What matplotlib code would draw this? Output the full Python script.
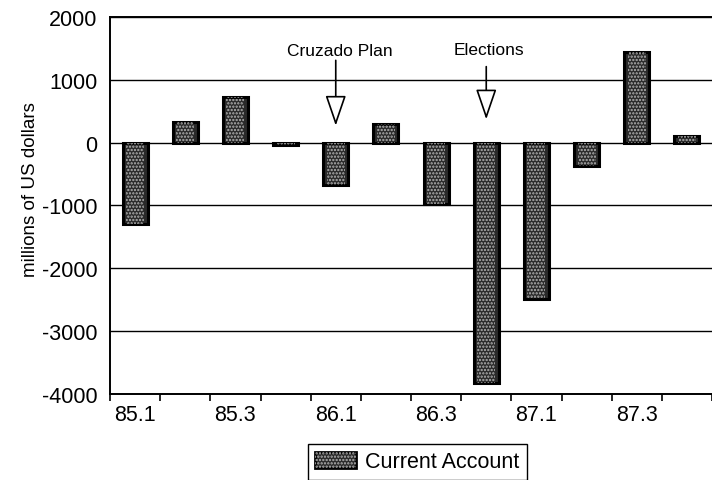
import matplotlib
matplotlib.use("Agg")
import matplotlib.pyplot as plt
from matplotlib.patches import Patch
from matplotlib.legend_handler import HandlerTuple

quarters = ["85.1", "85.2", "85.3", "85.4", "86.1", "86.2",
            "86.3", "86.4", "87.1", "87.2", "87.3", "87.4"]
current_account = [-1300, 330, 720, -30, -670, 290,
                   -970, -3830, -2490, -380, 1450, 110]
y_ticks = [-4000, -3000, -2000, -1000, 0, 1000, 2000]
events = ["Cruzado Plan", "Elections"]
event_idx = [4, 7]

plt.rcParams['font.family'] = ['Liberation Sans', 'DejaVu Sans']
plt.rcParams['hatch.linewidth'] = 1.1

fig = plt.figure(figsize=(7.12, 4.81), dpi=100)
ax = fig.add_axes([0.1545, 0.179, 0.8455, 0.7836])

x = list(range(len(quarters)))
ax.bar(x, current_account, width=0.5, color='#2a2a2a', edgecolor='black',
       linewidth=2.2, zorder=3)
ax.bar(x, current_account, width=0.36, color='none', edgecolor='#b4b4b4',
       hatch='.....', linewidth=0, zorder=4)

ax.set_xlim(-0.5, 11.27)
ax.set_ylim(-4000, 2000)
ax.set_yticks(y_ticks)
ax.set_yticklabels([str(v) for v in y_ticks], fontsize=15.5)
ax.tick_params(axis='y', length=0, pad=9)
for v in y_ticks:
    ax.axhline(v, color='black', linewidth=1.0, zorder=1)

ax.set_xticks(x)
ax.set_xticklabels([q if i % 2 == 0 else "" for i, q in enumerate(quarters)], fontsize=15.5)
ax.tick_params(axis='x', which='major', length=0, pad=7)
ax.set_xticks([i - 0.5 for i in range(len(quarters) + 1)], minor=True)
ax.tick_params(axis='x', which='minor', length=5, width=1.2, direction='out')

for s in ['left', 'bottom', 'top']:
    ax.spines[s].set_linewidth(1.4)
ax.spines['right'].set_visible(False)

ax.set_ylabel("millions of US dollars", fontsize=13.5, labelpad=7)
ax.yaxis.set_label_coords(-0.118, 0.545)

# event annotations
label_y = [1470, 1480]
arrow_start = [1310, 1210]
arrow_tip = [270, 370]
label_dx = [0.08, 0.05]
for name, i, ty, ys, yt, dx in zip(events, event_idx, label_y, arrow_start, arrow_tip, label_dx):
    ax.text(i + dx, ty, name, ha='center', va='center', fontsize=12.5, zorder=6)
    ax.annotate('', xy=(i, yt), xytext=(i, ys),
                arrowprops=dict(arrowstyle='-|>,head_length=1.9,head_width=0.65',
                                facecolor='white', edgecolor='black', lw=1.2,
                                shrinkA=0, shrinkB=0),
                zorder=6)

h1 = Patch(facecolor='#2a2a2a', edgecolor='black', linewidth=2.0)
h2 = Patch(facecolor='none', edgecolor='#b4b4b4', hatch='.....', linewidth=0)
fig.legend([(h1, h2)], ["Current Account"], handler_map={tuple: HandlerTuple(ndivide=1)},
           loc='upper center', bbox_to_anchor=(0.586, 0.075), fontsize=15.5,
           frameon=True, fancybox=False, edgecolor='black', framealpha=1,
           borderpad=0.35, borderaxespad=0, handlelength=1.9, handleheight=0.8,
           handletextpad=0.4)

fig.savefig("out.png", dpi=100)
